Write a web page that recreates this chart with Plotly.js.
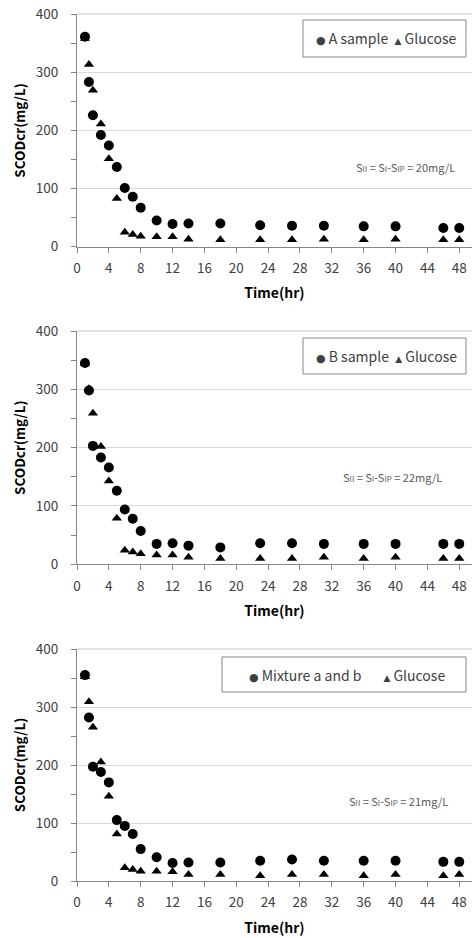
<!DOCTYPE html>
<html><head><meta charset="utf-8">
<script src="https://cdn.plot.ly/plotly-3.0.1.min.js"></script>
<style>html,body{margin:0;padding:0;background:#fff}</style>
</head><body><div id="chart" style="width:472px;height:938px"></div>
<script>
// ---- data ----
var time = [1, 1.5, 2, 3, 4, 5, 6, 7, 8, 10, 12, 14, 18, 23, 27, 31, 36, 40, 46, 48];
var aSample  = [361, 283, 226, 192, 174, 137, 101, 86, 67, 45, 39, 40, 40, 37, 36, 36, 35, 35, 32, 32];
var glucose1 = [358, 313, 269, 211, 151, 83, 25, 21, 18, 17, 17, 13, 12, 12, 12, 13, 12, 13, 12, 12];
var bSample  = [345, 298, 203, 183, 166, 126, 94, 78, 57, 35, 36, 32, 29, 36, 36, 35, 35, 35, 35, 35];
var glucose2 = [344, 301, 259, 202, 143, 79, 24, 21, 18, 16, 16, 12, 10, 10, 10, 12, 10, 12, 10, 10];
var mixAB    = [355, 282, 197, 188, 170, 105, 95, 81, 55, 41, 31, 32, 32, 35, 37, 35, 35, 35, 33, 33];
var glucose3 = [352, 309, 265, 205, 146, 81, 23, 20, 17, 17, 16, 11, 11, 9, 11, 11, 9, 11, 9, 11];
var sampleNames = ["A sample", "B sample", "Mixture a and b"];
var siiValues = ["20mg/L", "22mg/L", "21mg/L"];
var xTitle = "Time(hr)";
var yTitle = "SCODcr(mg/L)";

var FONT = "'Noto Sans CJK KR', 'Noto Sans', sans-serif";
var samples = [aSample, bSample, mixAB];
var glucoses = [glucose1, glucose2, glucose3];
var suffix = ["", "2", "3"];

var traces = [];
for (var i = 0; i < 3; i++) {
  traces.push({
    x: time, y: glucoses[i], type: "scatter", mode: "markers", name: "Glucose",
    xaxis: "x" + suffix[i], yaxis: "y" + suffix[i], showlegend: false,
    marker: {symbol: "triangle-up", size: 9, color: "#000"}
  });
  traces.push({
    x: time, y: samples[i], type: "scatter", mode: "markers", name: sampleNames[i],
    xaxis: "x" + suffix[i], yaxis: "y" + suffix[i], showlegend: false,
    marker: {symbol: "circle", size: 10, color: "#000"}
  });
}

var W = 472, H = 938, ML = 77, MT = 14, MB = 57;
var PW = W - ML, PH = H - MT - MB;
function px(x) { return (x - ML) / PW; }
function py(y) { return 1 - (y - MT) / PH; }

var domains = [[py(246.7), 1], [py(564.3), py(331)], [0, py(649)]];

var layout = {
  width: W, height: H,
  margin: {l: ML, r: 0, t: MT, b: MB},
  paper_bgcolor: "#fff", plot_bgcolor: "#fff",
  font: {family: FONT, size: 12, color: "#404040"},
  showlegend: false,
  annotations: [], shapes: []
};

for (var i = 0; i < 3; i++) {
  var xa = {
    anchor: "y" + suffix[i], domain: [0, 1], range: [0, 49.6],
    dtick: 4, tick0: 0, ticks: "outside", ticklen: 5, tickcolor: "#868686",
    showline: true, linecolor: "#868686", linewidth: 1,
    showgrid: false, zeroline: false, automargin: false,
    ticklabelstandoff: 4,
    tickfont: {family: FONT, size: 13.5, color: "#404040"},
    title: {text: "<b>" + xTitle + "</b>", standoff: 12, font: {family: FONT, size: 14, color: "#000"}}
  };
  var ya = {
    anchor: "x" + suffix[i], domain: domains[i], range: [0, 400],
    dtick: 100, tick0: 0, ticks: "outside", ticklen: 5, tickcolor: "#868686",
    minor: {dtick: 50, ticks: "outside", ticklen: 5, tickcolor: "#868686", showgrid: false},
    showline: true, linecolor: "#868686", linewidth: 1,
    showgrid: true, gridcolor: "#d9d9d9", gridwidth: 1,
    zeroline: false, automargin: false,
    ticklabelstandoff: 10,
    tickfont: {family: FONT, size: 13.5, color: "#404040"},
    title: {text: "<b>" + yTitle + "</b>", standoff: 7, font: {family: FONT, size: 13.5, color: "#000"}}
  };
  layout["xaxis" + suffix[i]] = xa;
  layout["yaxis" + suffix[i]] = ya;
  // top gridline at the axis maximum (Plotly skips gridlines on the plot edge)
  layout.shapes.push({
    type: "line", xref: "paper", yref: "paper",
    x0: 0, x1: 1, y0: domains[i][1], y1: domains[i][1],
    line: {color: "#c8c8c8", width: 1}, layer: "above"
  });
}

// legend boxes
var legendBoxes = [
  {x0: 303, x1: 466, y0: 20, y1: 57},
  {x0: 303, x1: 466, y0: 338, y1: 374},
  {x0: 222, x1: 466, y0: 657, y1: 692}
];
var gaps = ["&nbsp;&nbsp;", "&nbsp;&nbsp;", "&nbsp;&nbsp;&nbsp;&nbsp;&nbsp;&nbsp;&nbsp;"];
var symC = "<span style='font-family:DejaVu Sans;font-size:11px'>●</span>";
var symT = "<span style='font-family:DejaVu Sans;font-size:9px'>▲</span>";
var legendCx = [386, 386, 347];
for (var i = 0; i < 3; i++) {
  var b = legendBoxes[i];
  layout.shapes.push({
    type: "rect", xref: "paper", yref: "paper",
    x0: px(b.x0), x1: px(b.x1), y0: py(b.y1), y1: py(b.y0),
    line: {color: "#868686", width: 1}, fillcolor: "#fff", layer: "above"
  });
  layout.annotations.push({
    xref: "paper", yref: "paper", x: px(legendCx[i]), y: py((b.y0 + b.y1) / 2),
    xanchor: "center", yanchor: "middle", showarrow: false,
    text: symC + " " + sampleNames[i] + gaps[i] + symT + " Glucose",
    font: {family: FONT, size: 14, color: "#404040"}
  });
}

// S_II annotations
var siiPos = [{x: 405, y: 167}, {x: 392, y: 476.7}, {x: 398, y: 800.7}];
var sm = "<span style='font-size:8px'>";
for (var i = 0; i < 3; i++) {
  layout.annotations.push({
    xref: "paper", yref: "paper", x: px(siiPos[i].x), y: py(siiPos[i].y),
    xanchor: "center", yanchor: "middle", showarrow: false,
    text: "S" + sm + "II</span> = S" + sm + "I</span>-S" + sm + "IP</span> = " + siiValues[i],
    font: {family: FONT, size: 11, color: "#595959"}
  });
}

Plotly.newPlot("chart", traces, layout, {staticPlot: true, displayModeBar: false});
</script></body></html>
